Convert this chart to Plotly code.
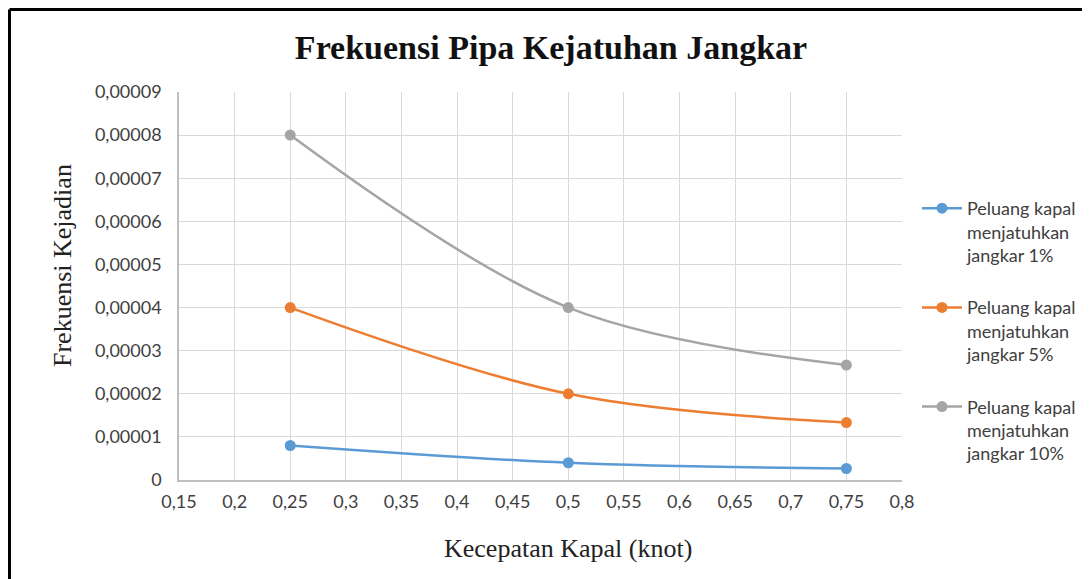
import plotly.graph_objects as go

speed = [0.25, 0.5, 0.75]
p1 = [0.000008, 0.000004, 0.0000026667]
p5 = [0.00004, 0.00002, 0.0000133333]
p10 = [0.00008, 0.00004, 0.0000266667]
series_names = ["Peluang kapal<br>menjatuhkan<br>jangkar 1%",
                "Peluang kapal<br>menjatuhkan<br>jangkar 5%",
                "Peluang kapal<br>menjatuhkan<br>jangkar 10%"]
colors = ["#5B9BD5", "#ED7D31", "#A5A5A5"]

x_tickvals = [0.15, 0.2, 0.25, 0.3, 0.35, 0.4, 0.45, 0.5, 0.55, 0.6, 0.65, 0.7, 0.75, 0.8]
x_ticktext = ["0,15", "0,2", "0,25", "0,3", "0,35", "0,4", "0,45", "0,5", "0,55", "0,6", "0,65", "0,7", "0,75", "0,8"]
y_tickvals = [0, 0.00001, 0.00002, 0.00003, 0.00004, 0.00005, 0.00006, 0.00007, 0.00008, 0.00009]
y_ticktext = ["0", "0,00001", "0,00002", "0,00003", "0,00004", "0,00005", "0,00006", "0,00007", "0,00008", "0,00009"]

fig = go.Figure()
for i, (vals, name, c) in enumerate(zip([p1, p5, p10], series_names, colors)):
    fig.add_trace(go.Scatter(
        x=speed, y=vals, name=name, mode="lines+markers",
        line=dict(color=c, width=2.5, shape="spline", smoothing=1),
        marker=dict(color=c, size=11),
        legendgroup=f"g{i}",
    ))

# page has an 8px body margin; work in screen pixels and convert
OFF = 8
W, H = 1082, 571
L, T = 179 - OFF, 92 - OFF
R = W - (902 - OFF)
B = H - (480 - OFF)
pw, ph = W - L - R, H - T - B

def px(xs):
    return (xs - OFF - L) / pw

def py(ys):
    return 1 - (ys - OFF - T) / ph

fig.update_layout(
    width=W, height=H,
    margin=dict(l=L, r=R, t=T, b=B, autoexpand=False),
    paper_bgcolor="white", plot_bgcolor="white",
    title=dict(text="<b>Frekuensi Pipa Kejatuhan Jangkar</b>",
               font=dict(family="Liberation Serif", size=34, color="#111111"),
               x=px(551), xref="paper", xanchor="center", y=1 - (47 - OFF) / H, yanchor="middle"),
    showlegend=True,
    legend=dict(x=px(917), y=py(190), xanchor="left", yanchor="top",
                font=dict(family="Lato", size=18, color="#404040"),
                tracegroupgap=26, valign="top", itemwidth=40,
                bgcolor="rgba(0,0,0,0)"),
    xaxis=dict(range=[0.15, 0.8], tickvals=x_tickvals, ticktext=x_ticktext,
               showgrid=True, gridcolor="#d9d9d9", gridwidth=1,
               showline=True, linecolor="#bfbfbf", linewidth=1.5,
               zeroline=False, ticks="outside", ticklen=5, tickcolor="rgba(0,0,0,0)",
               tickfont=dict(family="Lato", size=18, color="#404040")),
    yaxis=dict(range=[0, 0.00009], tickvals=y_tickvals, ticktext=y_ticktext,
               showgrid=True, gridcolor="#d9d9d9", gridwidth=1,
               showline=True, linecolor="#bfbfbf", linewidth=1.5,
               zeroline=False, ticks="outside", ticklen=12, tickcolor="rgba(0,0,0,0)",
               tickfont=dict(family="Lato", size=18, color="#404040")),
    annotations=[
        dict(text="Kecepatan Kapal (knot)", xref="paper", yref="paper",
             x=px(568), y=py(548), xanchor="center", yanchor="middle", showarrow=False,
             font=dict(family="Liberation Serif", size=26, color="#222222")),
        dict(text="Frekuensi Kejadian", xref="paper", yref="paper", textangle=-90,
             x=px(62), y=py(266), xanchor="center", yanchor="middle", showarrow=False,
             font=dict(family="Liberation Serif", size=26, color="#222222")),
    ],
    shapes=[
        dict(type="line", xref="paper", yref="paper", x0=px(9.5), x1=px(1100), y0=py(9.5), y1=py(9.5),
             line=dict(color="black", width=3)),
        dict(type="line", xref="paper", yref="paper", x0=px(9.5), x1=px(9.5), y0=py(9.5), y1=py(600),
             line=dict(color="black", width=3)),
    ],
)

fig.write_html("out.html")
